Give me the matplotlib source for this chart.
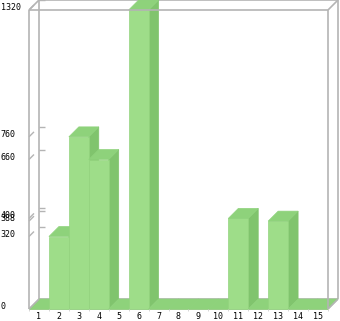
import matplotlib
matplotlib.use("Agg")
import matplotlib.pyplot as plt
from matplotlib.patches import Polygon

# --- datos ---
categorias = [str(i) for i in range(1, 16)]
valores = [0, 320, 760, 660, 0, 1320, 0, 0, 0, 0, 400, 0, 388, 0, 0]
marcas_y = [0, 320, 388, 400, 660, 760, 1320]

# colores
c_frente = "#9edd89"
c_tapa = "#8ed27b"
c_lado = "#80c46d"
c_marco = "#b4b4b4"

# geometría (unidades de datos)
y_max = 1320
dx = 0.5      # profundidad en x
dy = 44       # profundidad en y
n = len(valores)

fig = plt.figure(figsize=(3.4, 3.21), dpi=100)
ax = fig.add_axes([0, 0, 1, 1])
esc_x = 299 / n
esc_y = 299 / y_max
x0 = -29 / esc_x
y0 = -12 / esc_y
ax.set_xlim(x0, x0 + 340 / esc_x)
ax.set_ylim(y0, y0 + 321 / esc_y)
ax.set_axis_off()

# marco
def linea(xs, ys, z=1, lw=1.2, c=c_marco):
    ax.plot(xs, ys, color=c, lw=lw, zorder=z, solid_capstyle="butt")

linea([dx, dx], [dy, y_max + dy])
linea([dx, n + dx], [y_max + dy, y_max + dy])
linea([n + dx, n + dx], [dy, y_max + dy])
linea([dx, n + dx], [dy, dy])
linea([0, n], [0, 0])

# marcas en la pared del fondo y diagonales
for v in marcas_y:
    if v == 0:
        continue
    linea([dx, dx + 0.3], [v + dy, v + dy], lw=1.0)
    linea([0, dx * 0.5], [v, v + dy * 0.5], lw=1.0)

# barras
for i, v in enumerate(valores):
    x = i
    frente = Polygon([(x, 0), (x + 1, 0), (x + 1, v), (x, v)], closed=True,
                     facecolor=c_frente, edgecolor="#94d47f", lw=0.5, zorder=3)
    tapa = Polygon([(x, v), (x + 1, v), (x + 1 + dx, v + dy), (x + dx, v + dy)],
                   closed=True, facecolor=c_tapa, edgecolor=c_tapa, lw=0.5, zorder=3)
    lado = Polygon([(x + 1, 0), (x + 1 + dx, dy), (x + 1 + dx, v + dy), (x + 1, v)],
                   closed=True, facecolor=c_lado, edgecolor=c_lado, lw=0.5, zorder=3)
    ax.add_patch(lado)
    ax.add_patch(frente)
    ax.add_patch(tapa)

# líneas del frente
linea([0, 0], [0, y_max], z=5)
linea([n, n], [0, y_max], z=5)
linea([0, n], [y_max, y_max], z=5)
linea([0, dx], [y_max, y_max + dy], z=5)
linea([n, n + dx], [y_max, y_max + dy], z=5)
linea([0, dx], [0, dy], z=5)
linea([n, n + dx], [0, dy], z=5)

# marcas del eje x
for i in range(n + 1):
    linea([i, i], [0, -8], z=5, lw=0.6, c="#d0d0d0")

# etiquetas
for v in marcas_y:
    ax.text(x0 + 0.03, v + 11, str(v), ha="left", va="center",
            fontsize=6, family="DejaVu Sans Mono", color="black")
for i, c in enumerate(categorias):
    ax.text(i + 0.5, -31, c, ha="center", va="center",
            fontsize=6, family="DejaVu Sans Mono", color="black")

fig.savefig("out.png", dpi=100)
